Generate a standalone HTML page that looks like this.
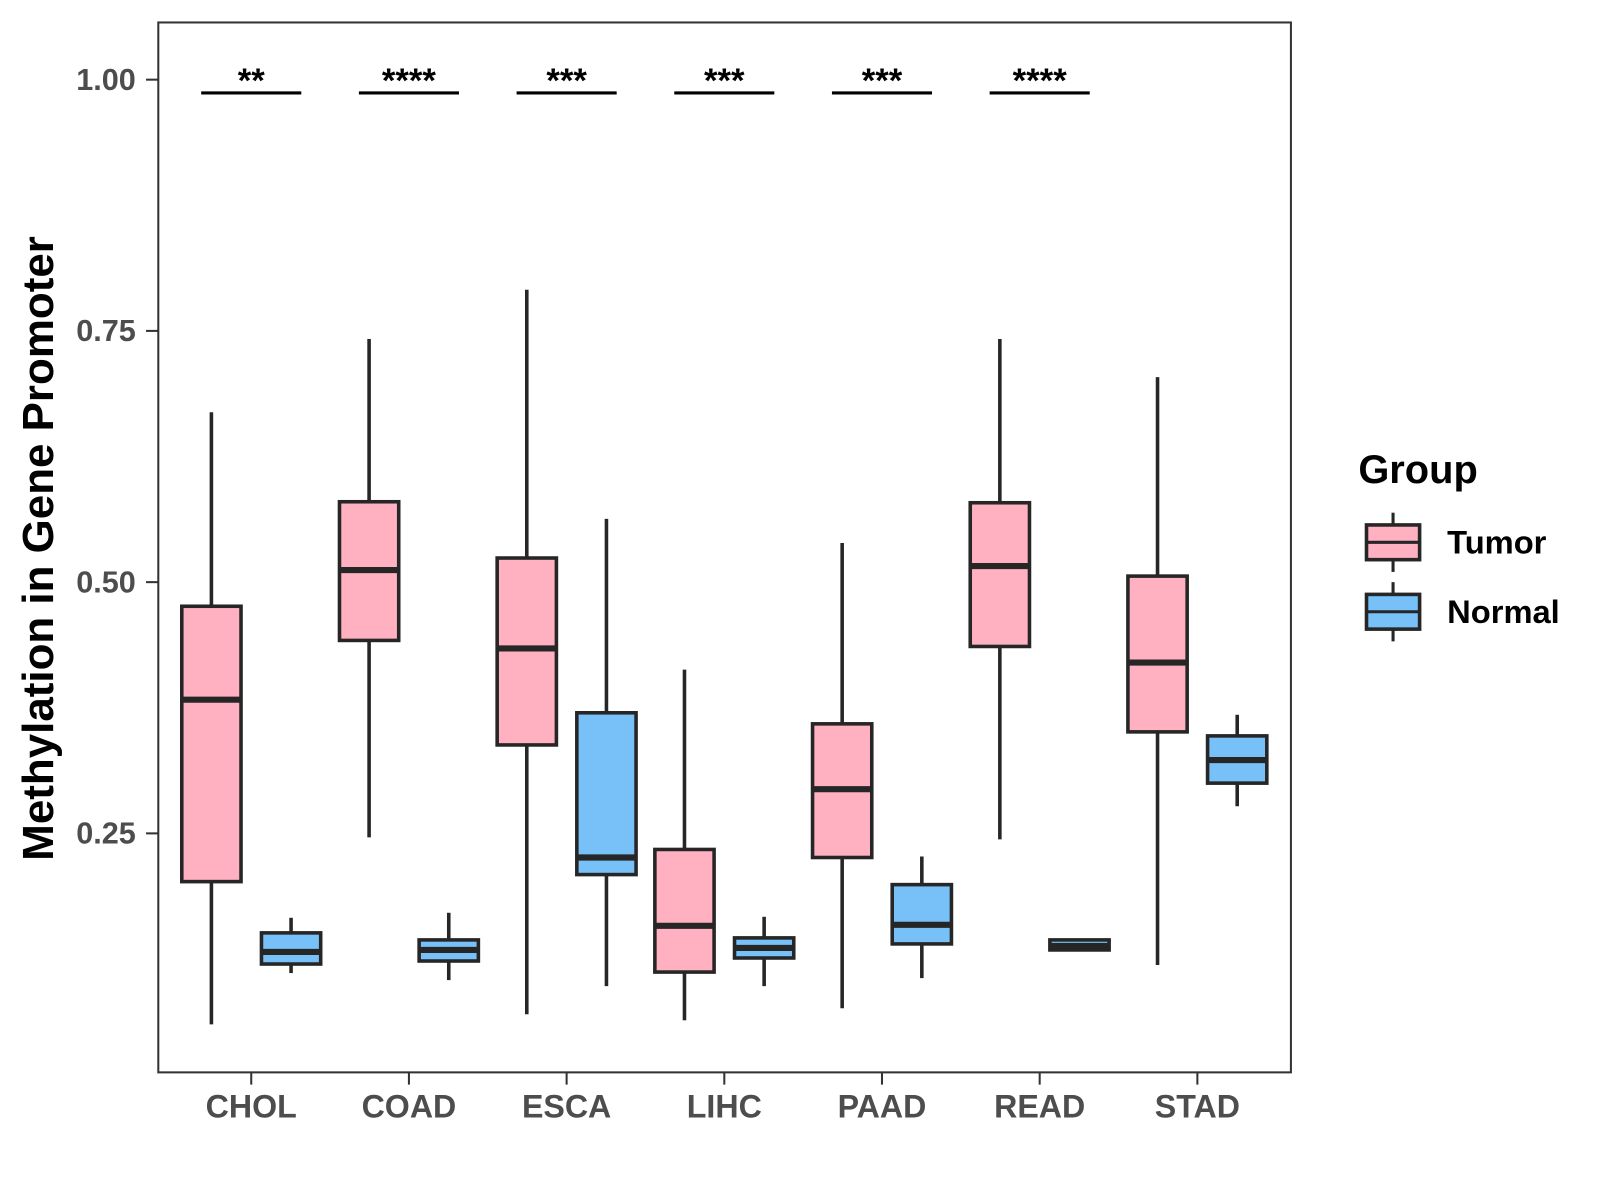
<!DOCTYPE html>
<html><head><meta charset="utf-8"><style>
html,body{margin:0;padding:0;background:#fff;}
svg{display:block;font-family:"Liberation Sans",Arial,sans-serif;}
</style></head><body>
<svg width="1600" height="1200" viewBox="0 0 1600 1200" xmlns="http://www.w3.org/2000/svg"><g id="chart" transform="scale(1.0213)"></g></svg>
<script>
const categories = ["CHOL","COAD","ESCA","LIHC","PAAD","READ","STAD"];
// [low, q1, median, q3, high]
const tumorStats = [
  [0.060,0.202,0.383,0.476,0.669],
  [0.246,0.442,0.512,0.580,0.742],
  [0.070,0.338,0.434,0.524,0.791],
  [0.064,0.112,0.158,0.234,0.413],
  [0.076,0.226,0.294,0.359,0.539],
  [0.244,0.436,0.516,0.579,0.742],
  [0.119,0.351,0.420,0.506,0.704]
];
const normalStats = [
  [0.111,0.120,0.132,0.151,0.166],
  [0.104,0.123,0.134,0.144,0.171],
  [0.098,0.209,0.226,0.370,0.563],
  [0.098,0.126,0.136,0.146,0.167],
  [0.106,0.140,0.159,0.199,0.227],
  [0.133,0.134,0.138,0.144,0.145],
  [0.277,0.300,0.323,0.347,0.368]
];
const sigLabels = ["**","****","***","***","***","****",""];
const yTicks = [0.25,0.50,0.75,1.00];
const yTickLabels = ["0.25","0.50","0.75","1.00"];

const NS="http://www.w3.org/2000/svg";
const svg=document.getElementById('chart');
const L=155,R=1264,T=22,B=1050;
const y=v=>78+(1-v)*984;
const x=i=>246+i*154.4;
function mk(tag,attrs,parent){const e=document.createElementNS(NS,tag);for(const k in attrs)e.setAttribute(k,attrs[k]);(parent||svg).appendChild(e);return e;}

const panel=mk('rect',{x:L,y:T,width:R-L,height:B-T,fill:'none',stroke:'#333',"stroke-width":2});



yTicks.forEach((v,i)=>{
  const t=mk('line',{x1:143,x2:L,y1:y(v),y2:y(v),stroke:'#333',"stroke-width":2});
  
  
  const tx=mk('text',{x:133,y:y(v)+10,"text-anchor":"end","font-size":30,"font-weight":"bold",fill:'#4d4d4d'});
  tx.textContent=yTickLabels[i];
  
  
});
categories.forEach((c,i)=>{
  const t=mk('line',{x1:x(i),x2:x(i),y1:B,y2:B+12,stroke:'#333',"stroke-width":2});
  
  
  const tx=mk('text',{x:x(i),y:1094,"text-anchor":"middle","font-size":31.5,"font-weight":"bold",fill:'#4d4d4d'});
  tx.textContent=c;
  
  
});

function box(cx,s,fill,name){
  const g=mk('g',{});
  
  
  const w=58;
  mk('line',{x1:cx,x2:cx,y1:y(s[4]),y2:y(s[3]),stroke:'#262626',"stroke-width":3.5},g);
  mk('line',{x1:cx,x2:cx,y1:y(s[1]),y2:y(s[0]),stroke:'#262626',"stroke-width":3.5},g);
  mk('rect',{x:cx-w/2,y:y(s[3]),width:w,height:Math.max(y(s[1])-y(s[3]),1),fill:fill,stroke:'#262626',"stroke-width":3.5},g);
  mk('line',{x1:cx-w/2,x2:cx+w/2,y1:y(s[2]),y2:y(s[2]),stroke:'#262626',"stroke-width":6},g);
}
categories.forEach((c,i)=>{
  box(x(i)-39,tumorStats[i],'#FFB0C1','box-tumor-'+c.toLowerCase());
  box(x(i)+39,normalStats[i],'#77C1F8','box-normal-'+c.toLowerCase());
  if(sigLabels[i]){
    const l=mk('line',{x1:x(i)-49,x2:x(i)+49,y1:91,y2:91,stroke:'#000',"stroke-width":3});
    
    
    const t=mk('text',{x:x(i),y:90,"text-anchor":"middle","font-size":34,"font-weight":"bold",fill:'#000'});
    t.textContent=sigLabels[i];
    
    
  }
});

const yt=mk('text',{x:0,y:0,transform:'translate(52,537) rotate(-90)',"text-anchor":"middle","font-size":43,"font-weight":"bold",fill:'#000'});
yt.textContent='Methylation in Gene Promoter';



const lt=mk('text',{x:1330,y:473,"font-size":39,"font-weight":"bold",fill:'#000'});
lt.textContent='Group';


[['Tumor','#FFB0C1',531],['Normal','#77C1F8',599]].forEach(([n,f,cy])=>{
  const g=mk('g',{});
  
  
  mk('line',{x1:1364,x2:1364,y1:cy-29,y2:cy+29,stroke:'#262626',"stroke-width":3},g);
  mk('rect',{x:1338,y:cy-17,width:52,height:34,fill:f,stroke:'#262626',"stroke-width":3.5},g);
  mk('line',{x1:1338,x2:1390,y1:cy,y2:cy,stroke:'#262626',"stroke-width":3},g);
  const t=mk('text',{x:1417,y:cy+11,"font-size":32,"font-weight":"bold",fill:'#000'},g);
  t.textContent=n;
});
</script>
</body></html>
